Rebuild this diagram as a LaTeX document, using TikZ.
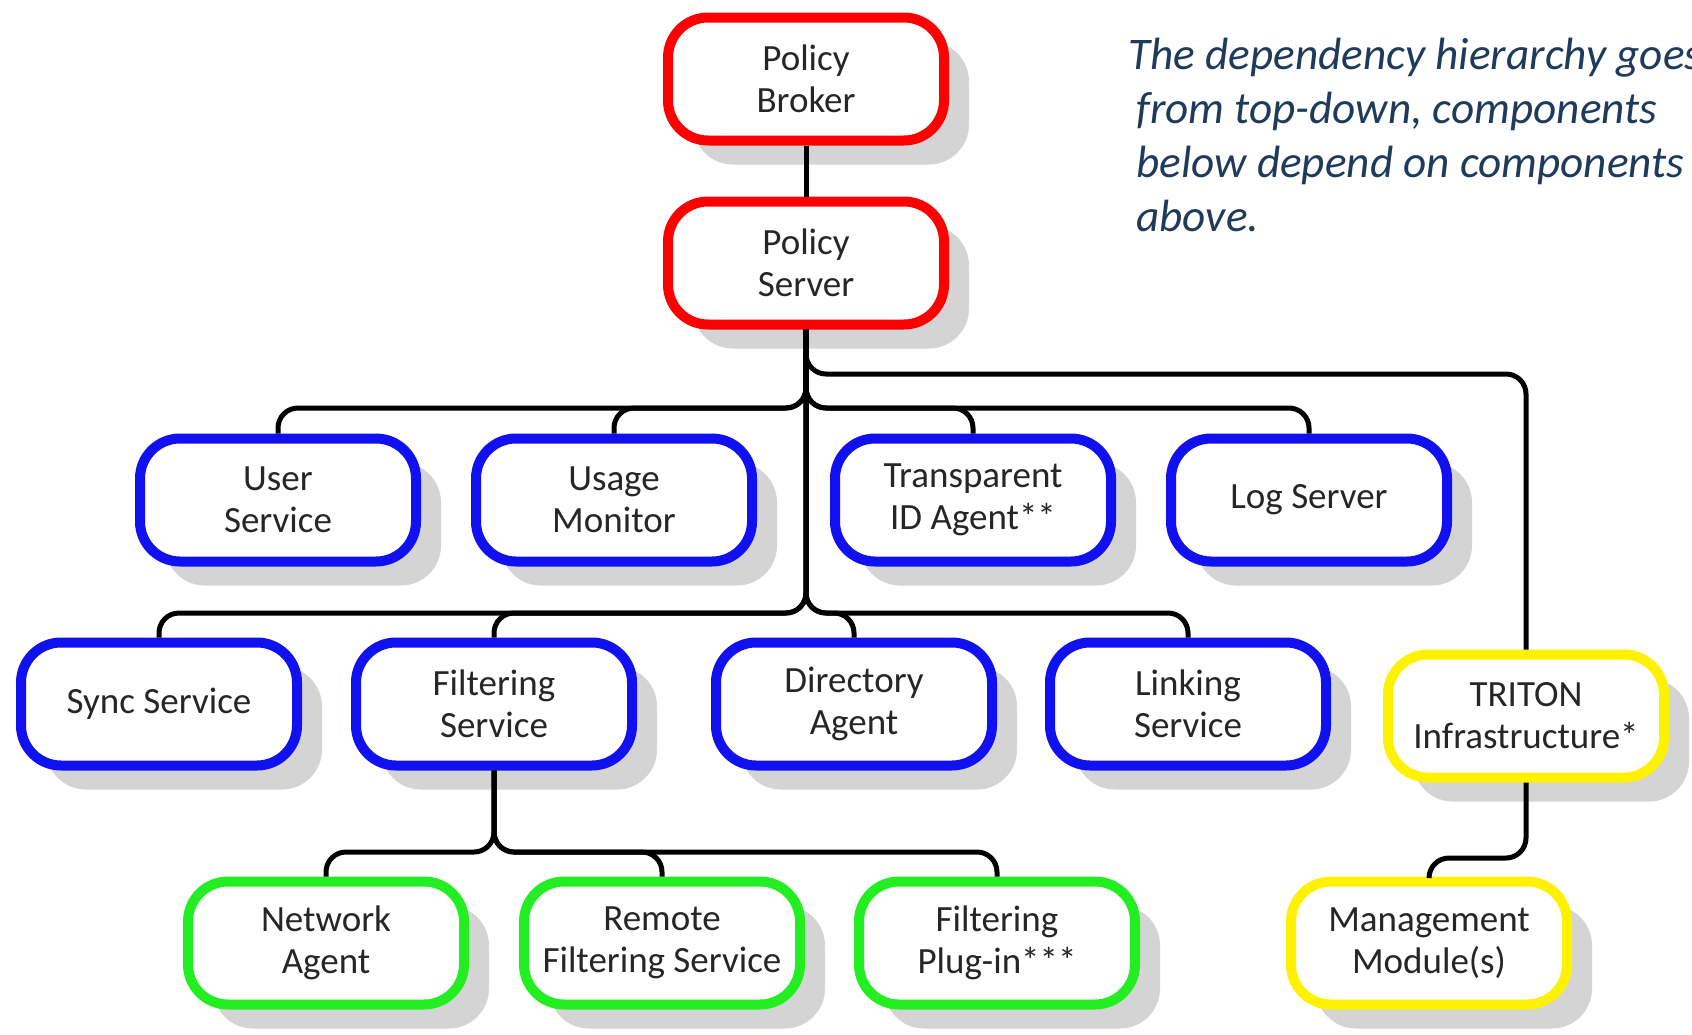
\documentclass[tikz,border=0pt]{standalone}
\usepackage{fontspec}
\setmainfont{Carlito}
\usepackage{xcolor}
\usepackage{tikz}
\usetikzlibrary{shadows}
\definecolor{notecol}{HTML}{1F3B5C}
\definecolor{boxgreen}{HTML}{22EE22}
\definecolor{boxblue}{HTML}{1010F0}

\begin{document}
\begin{tikzpicture}[x=0.5pt,y=-0.5pt,
  comp/.style={draw=#1,line width=5pt,rounded corners=20pt,fill=white,
    minimum width=138pt,minimum height=61.5pt,align=center,
    font=\fontsize{18.5}{21}\selectfont,text=black!85,
    drop shadow={shadow xshift=12.5pt,shadow yshift=-12pt,fill=black!17,opacity=1}},
  link/.style={line width=2.5pt,rounded corners=10pt}]
\fill[white] (0,0) rectangle (1692,1034);
\useasboundingbox (0,0) rectangle (1692,1034);

% top of the hierarchy
\node[comp=red] (pb) at (806,79) {Policy\\Broker};
\node[comp=red] (ps) at (806,263) {Policy\\Server};

% second row
\node[comp=boxblue] (us) at (278,500) {User\\Service};
\node[comp=boxblue] (um) at (614,500) {Usage\\Monitor};
\node[comp=boxblue] (tid) at (973,500) {Transparent\\ID Agent**};
\node[comp=boxblue] (ls) at (1309,500) {Log Server};

% third row
\node[comp=boxblue] (ss) at (159,704) {Sync Service};
\node[comp=boxblue] (fs) at (494,704) {Filtering\\Service};
\node[comp=boxblue] (da) at (854,704) {Directory\\Agent};
\node[comp=boxblue] (lks) at (1188,704) {Linking\\Service};
\node[comp=yellow] (tri) at (1526,716) {TRITON\\Infrastructure*};

% bottom row
\node[comp=boxgreen] (na) at (326,943) {Network\\Agent};
\node[comp=boxgreen] (rfs) at (662,943) {Remote\\Filtering Service};
\node[comp=boxgreen] (fpi) at (997,943) {Filtering\\Plug-in***};
\node[comp=yellow] (mm) at (1429,943) {Management\\Module(s)};

\coordinate (bus1) at (806,374);
\coordinate (bus2) at (806,408);
\coordinate (bus3) at (806,613);
\coordinate (bus4) at (494,852);
\coordinate (bus5) at (1526,858);

\draw[link] (pb) -- (ps);
\foreach \c in {us,um,tid,ls}
  \draw[link] (ps.south) |- (\c.north |- bus2) -- (\c.north);
\draw[link] (ps.south) |- (tri.north |- bus1) -- (tri.north);
\foreach \c in {ss,fs,da,lks}
  \draw[link] (ps.south) |- (\c.north |- bus3) -- (\c.north);
\foreach \c in {na,rfs,fpi}
  \draw[link] (fs.south) |- (\c.north |- bus4) -- (\c.north);
\draw[link] (tri.south) |- (mm.north |- bus5) -- (mm.north);

\node[anchor=north west,inner sep=0pt,align=left,text=notecol,
  font=\fontsize{22.6}{27}\selectfont\itshape] (note) at (1128,38)
  {The dependency hierarchy goes\\
   \hspace*{4pt}from top-down, components\\
   \hspace*{4pt}below depend on components\\
   \hspace*{4pt}above.};
\end{tikzpicture}
\end{document}
